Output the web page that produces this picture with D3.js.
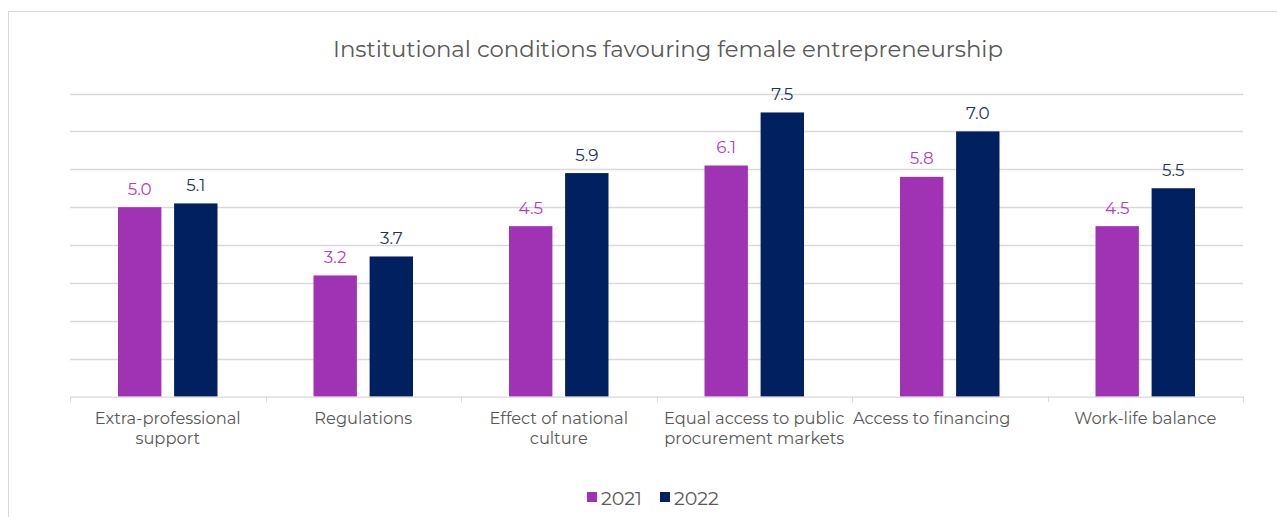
<!DOCTYPE html>
<html>
<head>
<meta charset="utf-8">
<script src="https://cdn.jsdelivr.net/npm/d3@7"></script>
<style>
  html, body { margin: 0; padding: 0; background: #ffffff; }
  svg { display: block; }
</style>
</head>
<body>
<svg id="chart" width="1277" height="517"></svg>
<script>
// Data
const categories = [
  "Extra-professional support",
  "Regulations",
  "Effect of national culture",
  "Equal access to public procurement markets",
  "Access to financing",
  "Work-life balance"
];
const categoryLines = [
  ["Extra-professional", "support"],
  ["Regulations"],
  ["Effect of national", "culture"],
  ["Equal access to public", "procurement markets"],
  ["Access to financing"],
  ["Work-life balance"]
];
const seriesNames = ["2021", "2022"];
const values2021 = [5.0, 3.2, 4.5, 6.1, 5.8, 4.5];
const values2022 = [5.1, 3.7, 5.9, 7.5, 7.0, 5.5];
const yTicks = [0, 1, 2, 3, 4, 5, 6, 7, 8];
const titleText = "Institutional conditions favouring female entrepreneurship";

const colors = { "2021": "#a033b4", "2022": "#002060" };
const labelColors = { "2021": "#b040c2", "2022": "#1f3466" };
const textColor = "#595959";
const gridColor = "#d9d9d9";
const fontFamily = "Montserrat, 'Open Sans', sans-serif";
// Horizontal nudge of each category label relative to its band centre
const labelShift = [0, 0, 0, 0, -18, 0];

const svg = d3.select("#chart");

// Font sizing helper: scale a font so a sample string reaches a given width
function fitSize(sample, targetWidth, base) {
  const t = svg.append("text").attr("font-family", fontFamily).attr("font-size", base).text(sample);
  const w = t.node().getComputedTextLength();
  t.remove();
  return base * targetWidth / w;
}
const titleSize = fitSize(titleText, 670, 20);
const axisSize = fitSize("Extra-professional", 146, 15);
const valueSize = fitSize("5.0", 24, 15);
const legendSize = fitSize("2021", 41, 17);

// Outer frame
svg.append("rect")
  .attr("x", 8.5).attr("y", 11.5)
  .attr("width", 1400).attr("height", 600)
  .attr("fill", "none").attr("stroke", gridColor).attr("stroke-width", 1);

const plot = { left: 70, right: 1243, top: 93.5, bottom: 396.7 };

const x = d3.scaleBand().domain(categories).range([plot.left, plot.right]);
const y = d3.scaleLinear().domain([0, 8]).range([plot.bottom, plot.top]);
const barW = 43.4, barGap = 12.7;
const xs = d3.scaleOrdinal().domain(seriesNames)
  .range([-(barW + barGap / 2), barGap / 2]);

// Gridlines
svg.append("g").selectAll("line")
  .data(yTicks.filter(d => d > 0))
  .join("line")
  .attr("x1", plot.left).attr("x2", plot.right)
  .attr("y1", d => Math.round(y(d)) + 0.5).attr("y2", d => Math.round(y(d)) + 0.5)
  .attr("stroke", gridColor).attr("stroke-width", 1.3);

// Title
svg.append("text")
  .attr("x", 668).attr("y", 57)
  .attr("text-anchor", "middle")
  .attr("font-family", fontFamily).attr("font-size", titleSize)
  .attr("fill", textColor)
  .text(titleText);

// Bars and value labels
const series = seriesNames.map(name => ({
  name,
  values: name === "2021" ? values2021 : values2022
}));

const bars = svg.append("g");
series.forEach(s => {
  const g = bars.append("g");
  g.selectAll("rect")
    .data(s.values)
    .join("rect")
    .attr("x", (d, i) => x(categories[i]) + x.bandwidth() / 2 + xs(s.name))
    .attr("y", d => y(d))
    .attr("width", barW)
    .attr("height", d => y(0) - y(d))
    .attr("fill", colors[s.name]);
  g.selectAll("text")
    .data(s.values)
    .join("text")
    .attr("x", (d, i) => x(categories[i]) + x.bandwidth() / 2 + xs(s.name) + barW / 2)
    .attr("y", d => y(d) - 12.5)
    .attr("text-anchor", "middle")
    .attr("font-family", fontFamily).attr("font-size", valueSize)
    .attr("fill", labelColors[s.name])
    .text(d => d.toFixed(1));
});

// Category axis
const xAxis = svg.append("g")
  .attr("transform", `translate(0,${plot.bottom})`)
  .call(d3.axisBottom(x).tickSize(0).tickFormat(""));
xAxis.select(".domain").attr("stroke", gridColor).attr("stroke-width", 1.3);

// Tick marks at category boundaries
const bounds = categories.map(c => x(c)).concat([plot.right]);
svg.append("g").selectAll("line")
  .data(bounds)
  .join("line")
  .attr("x1", d => Math.round(d) + 0.5).attr("x2", d => Math.round(d) + 0.5)
  .attr("y1", plot.bottom).attr("y2", plot.bottom + 5.5)
  .attr("stroke", gridColor).attr("stroke-width", 1);

// Category labels (wrapped)
const labels = svg.append("g");
categoryLines.forEach((lines, i) => {
  const t = labels.append("text")
    .attr("text-anchor", "middle")
    .attr("font-family", fontFamily).attr("font-size", axisSize)
    .attr("fill", textColor);
  lines.forEach((line, j) => {
    t.append("tspan")
      .attr("x", x(categories[i]) + x.bandwidth() / 2 + labelShift[i])
      .attr("y", 424 + j * 20)
      .text(line);
  });
});

// Legend
const legend = svg.append("g");
const legendX = [587, 660];
seriesNames.forEach((name, i) => {
  legend.append("rect")
    .attr("x", legendX[i]).attr("y", 492)
    .attr("width", 10).attr("height", 10)
    .attr("fill", colors[name]);
  legend.append("text")
    .attr("x", legendX[i] + 14).attr("y", 505)
    .attr("font-family", fontFamily).attr("font-size", legendSize)
    .attr("fill", textColor)
    .text(name);
});
</script>
</body>
</html>
